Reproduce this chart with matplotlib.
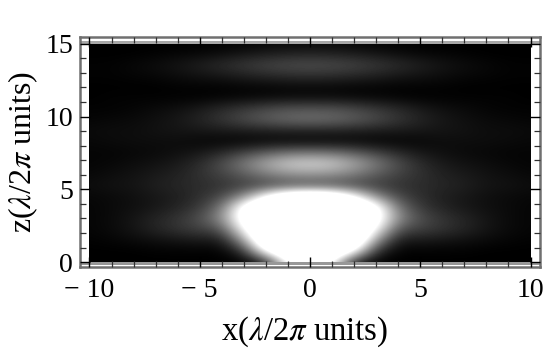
import numpy as np
import matplotlib
matplotlib.use('Agg')
import matplotlib.pyplot as plt
from matplotlib.patches import Rectangle

plt.rcParams['font.family'] = ['Liberation Serif', 'DejaVu Serif']
plt.rcParams['mathtext.fontset'] = 'stix'

x_major = [-10, -5, 0, 5, 10]
x_labels = ['\u2212 10', '\u2212 5', '0', '5', '10']
z_major = [0, 5, 10, 15]
z_labels = ['0', '5', '10', '15']

# intensity rows, x = -10..10 in steps of 1, top row z=15, each next row 0.75 lower
z1500 = [0, 0, 0, 0, 0, 0, .01, .01, .02, .03, .03, .03, .02, .01, .01, 0, 0, 0, 0, 0, 0]
z1425 = [0, 0, 0, .01, .02, .03, .05, .08, .11, .13, .14, .13, .11, .08, .05, .03, .02, .01, 0, 0, 0]
z1350 = [.01, .01, .03, .05, .08, .12, .17, .22, .26, .29, .30, .29, .26, .22, .17, .12, .08, .05, .03, .01, .01]
z1275 = [.01, .01, .02, .03, .05, .07, .09, .12, .15, .17, .18, .17, .15, .12, .09, .07, .05, .03, .02, .01, .01]
z1200 = [0, 0, 0, 0, .01, .01, .01, .02, .02, .03, .03, .03, .02, .02, .01, .01, .01, 0, 0, 0, 0]
z1125 = [0, .01, .01, .01, .01, .01, .02, .03, .04, .05, .05, .05, .04, .03, .02, .01, .01, .01, .01, .01, 0]
z1050 = [.01, .01, .02, .04, .06, .10, .16, .22, .28, .32, .33, .32, .28, .22, .16, .10, .06, .04, .02, .01, .01]
z975 = [.02, .03, .04, .06, .09, .14, .21, .29, .36, .41, .43, .41, .36, .29, .21, .14, .09, .06, .04, .03, .02]
z900 = [.04, .05, .05, .07, .08, .09, .10, .11, .12, .13, .13, .13, .12, .11, .10, .09, .08, .07, .05, .05, .04]
z825 = [.03, .04, .05, .05, .05, .03, .02, .02, .03, .03, .03, .03, .03, .02, .02, .03, .05, .05, .05, .04, .03]
z750 = [.02, .02, .03, .04, .06, .09, .16, .26, .36, .44, .46, .44, .36, .26, .16, .09, .06, .04, .03, .02, .02]
z675 = [.02, .03, .05, .07, .10, .17, .30, .48, .66, .80, .84, .80, .66, .48, .30, .17, .10, .07, .05, .03, .02]
z600 = [.03, .05, .07, .10, .13, .19, .26, .36, .48, .56, .58, .56, .48, .36, .26, .19, .13, .10, .07, .05, .03]
z525 = [.05, .07, .08, .12, .15, .17, .20, .24, .28, .32, .33, .32, .28, .24, .20, .17, .15, .12, .08, .07, .05]
z450 = [.03, .04, .06, .09, .12, .18, .28, .55, 1.05, 1.4, 1.5, 1.4, 1.05, .55, .28, .18, .12, .09, .06, .04, .03]
z375 = [.02, .04, .06, .09, .14, .22, .45, 1.15, 1.5, 1.5, 1.5, 1.5, 1.5, 1.15, .45, .22, .14, .09, .06, .04, .02]
z300 = [.02, .04, .08, .14, .20, .30, .55, 1.2, 1.5, 1.5, 1.5, 1.5, 1.5, 1.2, .55, .30, .20, .14, .08, .04, .02]
z225 = [.02, .04, .08, .14, .20, .25, .32, 1.0, 1.5, 1.5, 1.5, 1.5, 1.5, 1.0, .32, .25, .20, .14, .08, .04, .02]
z150 = [.01, .02, .04, .06, .08, .10, .10, .60, 1.5, 1.5, 1.5, 1.5, 1.5, .60, .10, .10, .08, .06, .04, .02, .01]
z075 = [0, 0, 0, .01, .01, .01, .01, .18, 1.05, 1.5, 1.5, 1.5, 1.05, .18, .01, .01, .01, .01, 0, 0, 0]
z000 = [0, 0, 0, 0, 0, 0, 0, 0, .12, 1.0, 1.4, 1.0, .12, 0, 0, 0, 0, 0, 0, 0, 0]

rows = [z1500, z1425, z1350, z1275, z1200, z1125, z1050, z975, z900, z825, z750,
        z675, z600, z525, z450, z375, z300, z225, z150, z075, z000]

fig = plt.figure(figsize=(5.45, 3.5), dpi=100)
# frame runs from 80 to 540 px across and 37 to 267 px down
ax = fig.add_axes([80 / 545, 1 - 267 / 350, 460 / 545, 230 / 350])
im = ax.imshow(np.array(rows), cmap='gray', vmin=0, vmax=1, extent=[-10.5, 10.5, -0.375, 15.375],
               interpolation='bicubic', aspect='auto', zorder=1)
im.set_clip_path(Rectangle((-10, 0), 20, 15, transform=ax.transData))
ax.set_xlim(-10.43, 10.43)
ax.set_ylim(-0.34, 15.47)
ax.axhspan(15.0, 15.2, color='#a8a8a8', lw=0, zorder=1)
ax.axhspan(-0.2, 0.0, color='#989898', lw=0, zorder=1)

ax.set_xticks(x_major)
ax.set_xticklabels(x_labels)
ax.set_yticks(z_major)
ax.set_yticklabels(z_labels)
ax.set_xticks(np.arange(-10, 11), minor=True)
ax.set_yticks(np.arange(0, 16), minor=True)
ax.tick_params(which='major', direction='in', top=True, right=True, length=7, width=1.0,
               color='black', labelsize=20)
ax.tick_params(axis='x', which='major', pad=8)
ax.tick_params(axis='y', which='major', pad=5)
ax.tick_params(which='minor', direction='in', top=True, right=True, length=4, width=0.9, color='#303030')
ax.set_axisbelow(False)
for s in ax.spines.values():
    s.set_color('#707070')
    s.set_linewidth(1.8)

ax.set_xlabel(r'x($\lambda$/2$\pi$ units)', fontsize=23.5, labelpad=8, x=0.489)
ax.set_ylabel(r'z($\lambda$/2$\pi$ units)', fontsize=23, labelpad=4)

fig.savefig('out.png', dpi=100)
